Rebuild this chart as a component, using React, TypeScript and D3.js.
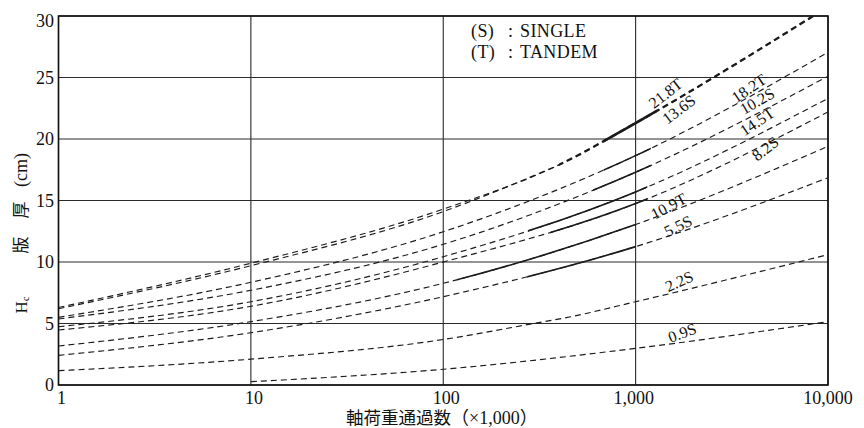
import React from 'react';
import * as d3 from 'd3';

// Axle-load passes (×1,000) and slab thickness Hc (cm)
const xTicks = [1, 10, 100, 1000, 10000];
const xTickLabels = ['1', '10', '100', '1,000', '10,000'];
const yTicks = [0, 5, 10, 15, 20, 25, 30];

const x218T = [1, 10, 100, 400, 1000, 10000];
const h218T = [6.3, 9.9, 14.3, 17.9, 21.3, 30.75];
const x136S = [1, 10, 100, 400];
const h136S = [6.2, 9.7, 14.1, 17.9];
const x182T = [1, 10, 100, 1000, 10000];
const h182T = [5.5, 8.35, 12.46, 18.65, 27.05];
const x102S = [1, 10, 100, 1000, 10000];
const h102S = [5.37, 7.7, 11.44, 17.3, 25.1];
const x145T = [1, 10, 100, 1000, 10000];
const h145T = [4.74, 6.77, 10.43, 15.7, 23.3];
const x82S = [1, 10, 100, 1000, 10000];
const h82S = [4.47, 6.4, 10.0, 14.75, 22.2];
const x109T = [1, 10, 100, 1000, 10000];
const h109T = [3.17, 5.15, 8.27, 13.05, 19.4];
const x55S = [1, 10, 100, 1000, 10000];
const h55S = [2.41, 4.25, 7.18, 11.25, 16.85];
const x22S = [1, 10, 100, 295, 460, 1000, 10000];
const h22S = [1.16, 2.1, 3.7, 5.0, 5.55, 6.77, 10.6];
const x09S = [10, 100, 1000, 10000];
const h09S = [0.27, 1.28, 2.98, 5.15];

// Beyond this pass count the 21.8T and 13.6S curves coincide
const mergePasses = 400;

// Pass ranges (×1,000) drawn as a solid line on each curve
const solid218T = [680, 1290];
const solid182T = [680, 1200];
const solid102S = [600, 1200];
const solid145T = [276, 1150];
const solid82S = [360, 1150];
const solid109T = [118, 1000];
const solid55S = [273, 1000];

type Curve = { id: string; xs: number[]; hs: number[]; solid: number[] | null };

const curves: Curve[] = [
  { id: 'c218T', xs: x218T, hs: h218T, solid: solid218T },
  { id: 'c136S', xs: x136S, hs: h136S, solid: null },
  { id: 'c182T', xs: x182T, hs: h182T, solid: solid182T },
  { id: 'c102S', xs: x102S, hs: h102S, solid: solid102S },
  { id: 'c145T', xs: x145T, hs: h145T, solid: solid145T },
  { id: 'c82S', xs: x82S, hs: h82S, solid: solid82S },
  { id: 'c109T', xs: x109T, hs: h109T, solid: solid109T },
  { id: 'c55S', xs: x55S, hs: h55S, solid: solid55S },
  { id: 'c22S', xs: x22S, hs: h22S, solid: null },
  { id: 'c09S', xs: x09S, hs: h09S, solid: null },
];

// Curve captions: text, anchor point (passes, Hc) and rotation
const captionText = ['21.8T', '13.6S', '18.2T', '10.2S', '14.5T', '8.2S', '10.9T', '5.5S', '2.2S', '0.9S'];
const captionX = [1450, 1700, 3930, 4330, 4330, 4780, 1500, 1680, 1700, 1760];
const captionH = [23.6, 22.3, 24.0, 22.95, 21.3, 19.1, 14.4, 12.8, 8.3, 4.1];
const captionAngle = [-38, -37, -34, -30, -34, -38, -28, -26, -24, -20];

const W = 864;
const H = 428;
const plot = { left: 58.5, right: 828, top: 16, bottom: 385 };

const SERIF = '"Liberation Serif", "Times New Roman", serif';
const MIXED = '"Liberation Serif", "Noto Sans CJK JP", serif';

export default function App() {
  const x = d3.scaleLog().domain([1, 10000]).range([plot.left, plot.right]);
  const y = d3.scaleLinear().domain([0, 30]).range([plot.bottom, plot.top]);

  const line = d3
    .line<[number, number]>()
    .x((d) => x(d[0]))
    .y((d) => y(d[1]))
    .curve(d3.curveMonotoneX);

  const ink = '#1b1b1b';
  const pathOf = (c: Curve) => line(c.xs.map((v, k) => [v, c.hs[k]] as [number, number])) || '';
  const topPath = pathOf(curves[0]);

  return (
    <svg
      width={W}
      height={H}
      style={{ position: 'absolute', left: 0, top: 0, background: '#fff' }}
      xmlns="http://www.w3.org/2000/svg"
    >
      <defs>
        <clipPath id="plotClip">
          <rect x={plot.left} y={plot.top} width={plot.right - plot.left} height={plot.bottom - plot.top} />
        </clipPath>
        <clipPath id="mergedClip">
          <rect x={x(mergePasses)} y={plot.top} width={plot.right - x(mergePasses)} height={plot.bottom - plot.top} />
        </clipPath>
        {curves.map((c) =>
          c.solid ? (
            <clipPath id={`solid-${c.id}`} key={c.id}>
              <rect
                x={x(c.solid[0])}
                y={plot.top}
                width={x(c.solid[1]) - x(c.solid[0])}
                height={plot.bottom - plot.top}
              />
            </clipPath>
          ) : null
        )}
      </defs>

      <rect x={0} y={0} width={W} height={H} fill="#fff" />

      {/* grid */}
      <g stroke="#2a2a2a" strokeWidth={1.1}>
        {yTicks.map((t) => (
          <line key={`gy${t}`} x1={plot.left} x2={plot.right} y1={y(t)} y2={y(t)} />
        ))}
        {xTicks.map((t) => (
          <line key={`gx${t}`} x1={x(t)} x2={x(t)} y1={plot.top} y2={plot.bottom} />
        ))}
      </g>
      <rect
        x={plot.left}
        y={plot.top}
        width={plot.right - plot.left}
        height={plot.bottom - plot.top}
        fill="none"
        stroke="#111"
        strokeWidth={1.6}
      />

      {/* load curves */}
      <g clipPath="url(#plotClip)" fill="none" stroke={ink}>
        {curves.map((c) => {
          const d = pathOf(c);
          return (
            <g key={c.id}>
              <path d={d} strokeWidth={1.15} strokeDasharray="6 4" />
              {c.solid ? (
                <path
                  d={d}
                  strokeWidth={c.id === 'c218T' ? 2.6 : 1.6}
                  clipPath={`url(#solid-${c.id})`}
                />
              ) : null}
            </g>
          );
        })}
        {/* shared 21.8T / 13.6S branch drawn heavier */}
        <g clipPath="url(#mergedClip)">
          <path d={topPath} strokeWidth={2.3} strokeDasharray="6 4" />
        </g>
      </g>

      {/* curve captions */}
      <g fontFamily={SERIF} fontSize={16} fill="#111">
        {captionText.map((t, i) => {
          const cx = x(captionX[i]);
          const cy = y(captionH[i]);
          return (
            <text
              key={t}
              x={cx}
              y={cy}
              textAnchor="middle"
              dominantBaseline="middle"
              transform={`rotate(${captionAngle[i]} ${cx} ${cy})`}
            >
              {t}
            </text>
          );
        })}
      </g>

      {/* y tick labels */}
      <g fontFamily={SERIF} fontSize={18} fill="#111">
        {yTicks.map((t) => (
          <text key={`ty${t}`} x={54} y={Math.max(y(t), 21)} textAnchor="end" dominantBaseline="central">
            {t}
          </text>
        ))}
      </g>

      {/* x tick labels */}
      <g fontFamily={SERIF} fontSize={18} fill="#111">
        {xTicks.map((t, i) => (
          <text key={`tx${t}`} x={x(t) + (i < 3 ? 3 : i === 3 ? -2 : 0)} y={404} textAnchor="middle">
            {xTickLabels[i]}
          </text>
        ))}
      </g>

      {/* x axis title */}
      <text x={346} y={424} fontFamily={MIXED} fontSize={17.5} fill="#111">
        軸荷重通過数<tspan fontSize={18}>（×1,000）</tspan>
      </text>

      {/* y axis title, set vertically */}
      <g fontFamily={MIXED} fontSize={17} fill="#111">
        <text x={21} y={305} textAnchor="middle" dominantBaseline="central" transform="rotate(-90 21 305)">
          H<tspan fontSize={10} dy={4}>c</tspan>
        </text>
        <text x={21} y={245} textAnchor="middle" dominantBaseline="central" transform="rotate(-90 21 245)">
          版
        </text>
        <text x={21} y={210} textAnchor="middle" dominantBaseline="central" transform="rotate(-90 21 210)">
          厚
        </text>
        <text x={21} y={170} textAnchor="middle" dominantBaseline="central" transform="rotate(-90 21 170)" fontSize={18}>
          (cm)
        </text>
      </g>

      {/* legend */}
      <g fontFamily={SERIF} fontSize={18} fill="#111" letterSpacing={0.4}>
        <text x={471} y={37}>
          (S)<tspan x={508}>:</tspan><tspan x={520}>SINGLE</tspan>
        </text>
        <text x={471} y={57.5}>
          (T)<tspan x={508}>:</tspan><tspan x={520}>TANDEM</tspan>
        </text>
      </g>
    </svg>
  );
}
